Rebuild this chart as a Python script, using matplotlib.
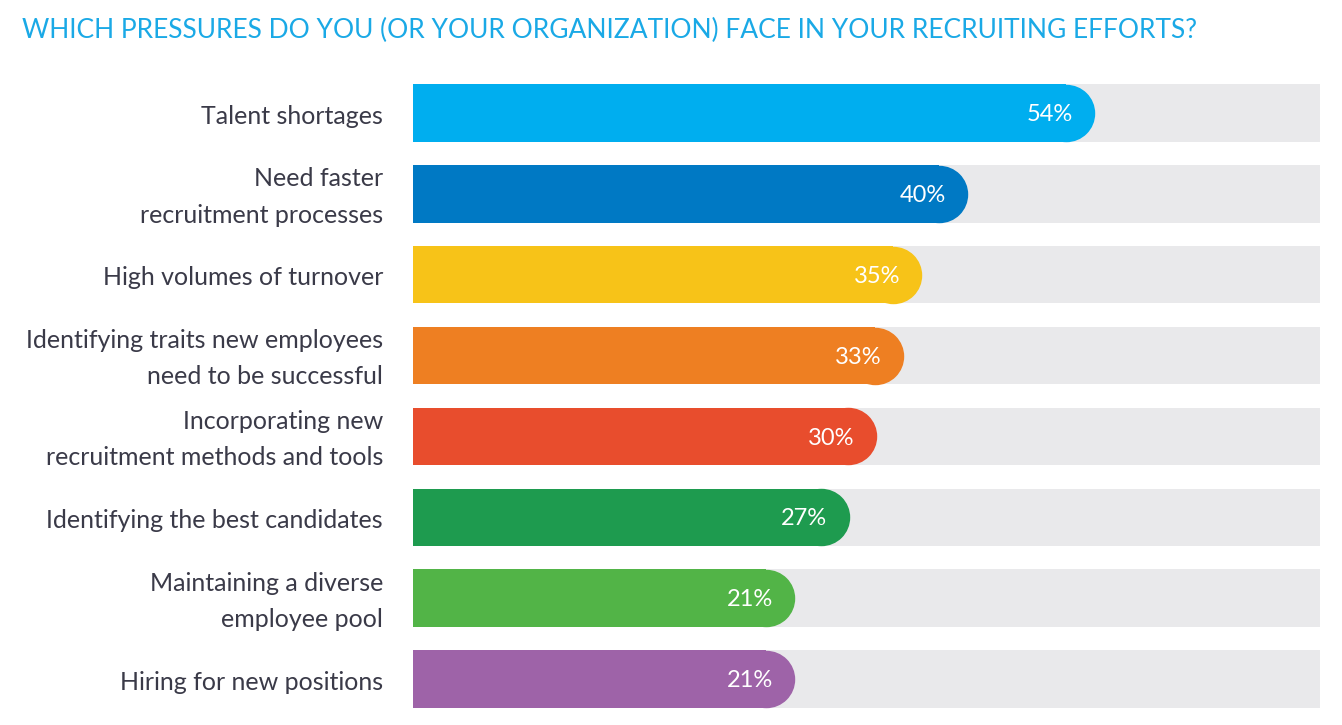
import matplotlib.pyplot as plt

labels = ["Talent shortages",
          "Need faster\nrecruitment processes",
          "High volumes of turnover",
          "Identifying traits new employees\nneed to be successful",
          "Incorporating new\nrecruitment methods and tools",
          "Identifying the best candidates",
          "Maintaining a diverse\nemployee pool",
          "Hiring for new positions"]
values = [54, 40, 35, 33, 30, 27, 21, 21]
colors = ["#00aeef", "#0079c4", "#f7c318", "#ee7f22", "#e84d2d", "#1e9b4f", "#52b447", "#9e63a8"]

W, H = 1342, 725
fig = plt.figure(figsize=(W / 100, H / 100), dpi=100)
# axes placed in pixel terms so the bars line up with the reference
ax = fig.add_axes([413 / W, 1 - 719.5 / H, (1320 - 413) / W, (719.5 - 72.5) / H])
x0, x1 = -21, 78.8
ax.set_xlim(x0, x1)
ax.set_ylim(len(values) - 0.5, -0.5)
ax.axis("off")

bar_h = 0.71
px_per_unit = (1320 - 413) / (x1 - x0)
px_per_row = (719.5 - 72.5) / len(values)
r = bar_h * px_per_row / 2 / px_per_unit  # end-cap radius in data units
ms = bar_h * px_per_row * 72 / 100

ypos = list(range(len(values)))
ax.barh(ypos, x1 - x0, left=x0, height=bar_h, color="#e9e9eb", zorder=1)
ax.barh(ypos, [v - r - x0 for v in values], left=x0, height=bar_h, color=colors, zorder=2)
for y, v, c, lab in zip(ypos, values, colors, labels):
    ax.plot(v - r, y, "o", ms=ms, color=c, mec="none", zorder=2)
    ax.text(v - 2.4, y + 0.02, f"{v}%", color="white", ha="right", va="center",
            fontsize=17, family="Lato", zorder=3)
    ax.text(x0 - 3.3, y + 0.04, lab, color="#3a3a48", ha="right", va="center",
            fontsize=18, family="Lato", linespacing=1.7)

fig.text(22 / W, 1 - 30 / H, "WHICH PRESSURES DO YOU (OR YOUR ORGANIZATION) FACE IN YOUR RECRUITING EFFORTS?",
         color="#1aa9e6", fontsize=19, family="Lato", ha="left", va="center")

fig.savefig("out.png", dpi=100)
